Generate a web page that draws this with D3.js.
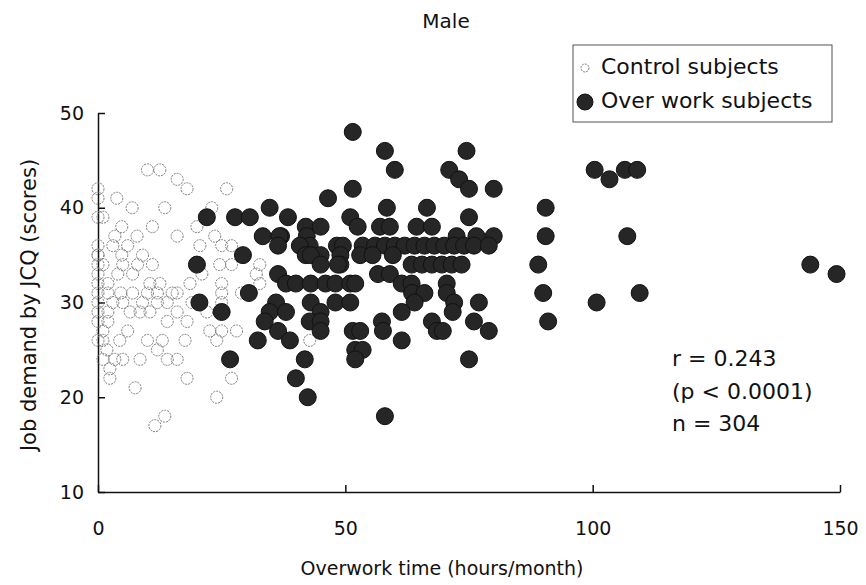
<!DOCTYPE html>
<html>
<head>
<meta charset="utf-8">
<title>Male - Job demand vs overwork time</title>
<script src="https://d3js.org/d3.v7.min.js"></script>
<style>
  body { margin: 0; background: #fff; }
  text { font-family: "DejaVu Sans", sans-serif; fill: #111; }
</style>
</head>
<body>
<div id="chart"></div>
<script>
// control subjects (open circles)
var ctrlX = [10,12.5,16,18,0,26,0,3.8,6.9,13.5,23,0,1,4.8,11,20,3.4,7.9,16,23.6,
  0,3,6,20.6,25,27,4.8,0,1,5,8,11,24.6,27,32.7,0,4,21,32,0,2,10.5,12.5,18.6,25,32.7,
  15,0,2,4.6,7,10,12,16,25,0,3,5,9,12,14,25,0,2,6.5,8.5,10.5,16,0,18,1,6,22.6,25,28,
  0,4.4,10,13,17.6,24,42.8,1.8,12,1,3.4,5,8.5,14,16,2.4,2.4,18,27,7.5,24,13.5,11.5,
  0,0,1,2,7,9,14,19,22,29];
var ctrlY = [44,44,43,42,42,42,41,41,40,40,40,39,39,38,38,38,37,37,37,37,
  36,36,36,36,36,36,35,35,34,34,34,34,34,34,34,33,33,33,33,32,32,32,32,32,32,32,
  31,31,31,31,31,31,31,31,31,30,30,30,30,30,30,30,29,29,29,29,29,29,28,28,27,27,27,27,27,
  26,26,26,26,26,26,26,25,25,24,24,24,24,24,24,23,22,22,22,21,20,18,17,
  35,34,26,28,33,35,28,30,29,31];

// over work subjects (filled circles)
var overX = [51.5,58,74.5,60,71,73,75,80,51.5,46.5,
  100.4,103.4,106.5,109,
  34.7,58.4,66.5,90.5,
  22,27.7,30.7,38.4,51,75,
  42,45,52.5,57,59,64.4,67.5,
  33.3,37,42.2,72.5,76.5,80,90.5,107,36.7,
  36.4,42.8,48.3,49.5,53.5,56,58,60,62,64,66,68,70,72,74,76,79,40.8,
  29.3,45,49,53,55.5,59.6,42,43,
  20,49,63.4,65.5,67.5,69.5,71.5,73.5,89,144,45,48.5,
  36.4,56.6,59,149.3,
  38,40,43,46,48,51,52,61.4,63.4,70.5,
  30.5,63.5,66,70.5,90,109.5,
  20.5,36,43,48,51,64,72,77,100.8,
  25,34.7,38,45,61.4,71.7,
  33.7,42.8,45,57.4,67.5,76,91,
  36.4,45,51.5,53,57.6,68.5,69.7,79,
  32.3,38.8,61.4,
  52,53.5,
  26.7,41.8,52,75,
  40,42.4,58];
var overY = [48,46,46,44,44,43,42,42,42,41,
  44,43,44,44,
  40,40,40,40,
  39,39,39,39,39,39,
  38,38,38,38,38,38,38,
  37,37,37,37,37,37,37,37,37,
  36,36,36,36,36,36,36,36,36,36,36,36,36,36,36,36,36,36,
  35,35,35,35,35,35,35,35,
  34,34,34,34,34,34,34,34,34,34,34,34,
  33,33,33,33,
  32,32,32,32,32,32,32,32,32,32,
  31,31,31,31,31,31,
  30,30,30,30,30,30,30,30,30,
  29,29,29,29,29,29,
  28,28,28,28,28,28,28,
  27,27,27,27,27,27,27,27,
  26,26,26,
  25,25,
  24,24,24,24,
  22,20,18];

var xTicks = [0, 50, 100, 150];
var yTicks = [10, 20, 30, 40, 50];
var statLines = ["r = 0.243", "(p < 0.0001)", "n = 304"];

var width = 866, height = 585;
var svg = d3.select("#chart").append("svg")
  .attr("width", width).attr("height", height);

var x = d3.scaleLinear().domain([0, 150]).range([98, 840]);
var y = d3.scaleLinear().domain([10, 50]).range([492, 113]);

// axes with inward ticks
var yAxis = d3.axisLeft(y).tickValues(yTicks).tickSizeInner(-7).tickSizeOuter(0).tickPadding(14);
var xAxis = d3.axisBottom(x).tickValues(xTicks).tickSizeInner(-7).tickSizeOuter(0).tickPadding(30);

var gy = svg.append("g").attr("transform", "translate(98,0)").call(yAxis);
var gx = svg.append("g").attr("transform", "translate(0,492)").call(xAxis);
[gy, gx].forEach(function(g) {
  g.select(".domain").attr("stroke", "#111").attr("stroke-width", 1.5);
  g.selectAll(".tick line").attr("stroke", "#111").attr("stroke-width", 1.5);
  g.selectAll(".tick text").style("font-family", "DejaVu Sans, sans-serif")
    .style("font-size", "19px").attr("fill", "#111");
});

// points
var ctrl = d3.range(ctrlX.length).map(function(i) { return [ctrlX[i], ctrlY[i]]; });
var over = d3.range(overX.length).map(function(i) { return [overX[i], overY[i]]; });

svg.append("g").selectAll("circle").data(ctrl).enter().append("circle")
  .attr("cx", function(d) { return x(d[0]); })
  .attr("cy", function(d) { return y(d[1]); })
  .attr("r", 6)
  .attr("fill", "none")
  .attr("stroke", "#7a7a7a")
  .attr("stroke-width", 1)
  .attr("stroke-dasharray", "2,1");

svg.append("g").selectAll("circle").data(over).enter().append("circle")
  .attr("cx", function(d) { return x(d[0]); })
  .attr("cy", function(d) { return y(d[1]); })
  .attr("r", 8.5)
  .attr("fill", "#262626")
  .attr("stroke", "#111")
  .attr("stroke-width", 1);

// titles
svg.append("text").attr("x", 446).attr("y", 22).attr("text-anchor", "middle")
  .attr("dominant-baseline", "middle").style("font-size", "20px").text("Male");
svg.append("text").attr("x", 442).attr("y", 569).attr("text-anchor", "middle")
  .attr("dominant-baseline", "middle").style("font-size", "19px").text("Overwork time (hours/month)");
svg.append("text").attr("transform", "translate(30,305) rotate(-90)").attr("text-anchor", "middle")
  .attr("dominant-baseline", "middle").style("font-size", "21px").text("Job demand by JCQ (scores)");

// legend
var lg = svg.append("g");
lg.append("rect").attr("x", 573).attr("y", 45).attr("width", 259).attr("height", 77)
  .attr("fill", "#fff").attr("stroke", "#555").attr("stroke-width", 1);
lg.append("circle").attr("cx", 585).attr("cy", 68).attr("r", 4)
  .attr("fill", "none").attr("stroke", "#7a7a7a").attr("stroke-dasharray", "2,1");
lg.append("circle").attr("cx", 585).attr("cy", 102).attr("r", 8)
  .attr("fill", "#262626").attr("stroke", "#111");
lg.append("text").attr("x", 601).attr("y", 68).attr("dominant-baseline", "middle")
  .style("font-size", "22px").text("Control subjects");
lg.append("text").attr("x", 601).attr("y", 102).attr("dominant-baseline", "middle")
  .style("font-size", "22px").text("Over work subjects");

// statistics
svg.append("g").selectAll("text").data(statLines).enter().append("text")
  .attr("x", 672)
  .attr("y", function(d, i) { return 360 + i * 32.5; })
  .attr("dominant-baseline", "middle")
  .style("font-size", "22px")
  .text(function(d) { return d; });
</script>
</body>
</html>
